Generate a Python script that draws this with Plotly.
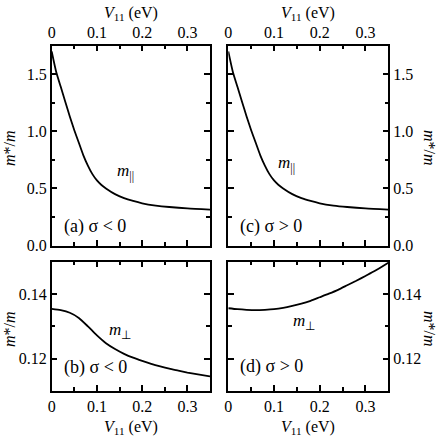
import plotly.graph_objects as go

# ---- data ----
v11_par = [0, 0.01, 0.02, 0.03, 0.04, 0.05, 0.06, 0.07, 0.08, 0.09, 0.10, 0.11, 0.12,
           0.14, 0.16, 0.18, 0.20, 0.23, 0.26, 0.30, 0.35]
m_par = [1.70, 1.52, 1.39, 1.26, 1.13, 1.01, 0.90, 0.79, 0.70, 0.625, 0.57, 0.53, 0.50,
         0.45, 0.415, 0.39, 0.37, 0.35, 0.337, 0.325, 0.315]

v11_perp = [0, 0.02, 0.04, 0.06, 0.08, 0.10, 0.12, 0.14, 0.16, 0.18, 0.20, 0.22, 0.24,
            0.26, 0.28, 0.30, 0.32, 0.35]
m_perp_neg = [0.1354, 0.1350, 0.1342, 0.1326, 0.1300, 0.1272, 0.1248, 0.1230, 0.1215,
              0.1203, 0.1193, 0.1184, 0.1176, 0.1169, 0.1163, 0.1157, 0.1152, 0.1145]
m_perp_pos = [0.1356, 0.1353, 0.1351, 0.1350, 0.1351, 0.1353, 0.1357, 0.1363, 0.1370,
              0.1379, 0.1390, 0.1401, 0.1413, 0.1427, 0.1441, 0.1456, 0.1471, 0.1497]

panel_labels = ["(a) σ < 0", "(c) σ > 0", "(b) σ < 0", "(d) σ > 0"]
x_title = "<i>V</i><sub>11</sub> (eV)"
y_title = "<i>m</i>*/<i>m</i>"

W, H = 440, 437
FONT = "Liberation Serif, Times New Roman, Times, serif"

def px_x(a, b):
    return [a / W, b / W]

def px_y(top, bottom):
    return [1 - bottom / H, 1 - top / H]

fig = go.Figure()
line = dict(color="black", width=1.8, shape="spline", smoothing=0.6)
fig.add_trace(go.Scatter(x=v11_par, y=m_par, mode="lines", line=line, xaxis="x", yaxis="y"))
fig.add_trace(go.Scatter(x=v11_par, y=m_par, mode="lines", line=line, xaxis="x2", yaxis="y2"))
fig.add_trace(go.Scatter(x=v11_perp, y=m_perp_neg, mode="lines", line=line, xaxis="x3", yaxis="y3"))
fig.add_trace(go.Scatter(x=v11_perp, y=m_perp_pos, mode="lines", line=line, xaxis="x4", yaxis="y4"))

common = dict(showline=True, linecolor="black", linewidth=1.5, mirror="allticks",
              ticks="inside", ticklen=6, tickwidth=1.5, tickcolor="black",
              showgrid=False, zeroline=False, automargin=False,
              tickfont=dict(family=FONT, size=16, color="black"))

def xax(domain, anchor, side):
    d = dict(common)
    d.update(domain=domain, anchor=anchor, side=side, range=[0, 0.35], dtick=0.1, tick0=0,
             minor=dict(ticks="inside", dtick=0.05, ticklen=4, tickwidth=1.5, tickcolor="black"))
    return d

def yax_top(domain, anchor, side):
    d = dict(common)
    d.update(domain=domain, anchor=anchor, side=side, range=[0, 1.75], dtick=0.5, tick0=0,
             tickformat=".1f",
             minor=dict(ticks="inside", dtick=0.25, ticklen=4, tickwidth=1.5, tickcolor="black"))
    return d

def yax_bot(domain, anchor, side):
    d = dict(common)
    d.update(domain=domain, anchor=anchor, side=side, range=[0.11, 0.15], dtick=0.02, tick0=0,
             tickformat=".2f",
             minor=dict(ticks="inside", dtick=0.01, ticklen=4, tickwidth=1.5, tickcolor="black"))
    return d

XL = (51.7, 210.0)
XR = (228.3, 388.3)
YT = (45.7, 245.5)
YB = (261.7, 391.0)
xl = px_x(*XL)
xr = px_x(*XR)
yt = px_y(*YT)
yb = px_y(*YB)

fig.update_layout(
    width=W, height=H, margin=dict(l=0, r=0, t=0, b=0, autoexpand=False),
    paper_bgcolor="white", plot_bgcolor="white", showlegend=False,
    xaxis=xax(xl, "y", "top"),
    yaxis=yax_top(yt, "x", "left"),
    xaxis2=xax(xr, "y2", "top"),
    yaxis2=yax_top(yt, "x2", "right"),
    xaxis3=xax(xl, "y3", "bottom"),
    yaxis3=yax_bot(yb, "x3", "left"),
    xaxis4=xax(xr, "y4", "bottom"),
    yaxis4=yax_bot(yb, "x4", "right"),
)

afont = dict(family=FONT, size=18, color="black")
lfont = dict(family=FONT, size=17, color="black")
tfont = dict(family=FONT, size=16, color="black")
ann = [
    dict(x=0.022, y=0.17, xref="x", yref="y", text=panel_labels[0], font=afont),
    dict(x=0.022, y=0.17, xref="x2", yref="y2", text=panel_labels[1], font=afont),
    dict(x=0.022, y=0.1173, xref="x3", yref="y3", text=panel_labels[2], font=afont),
    dict(x=0.022, y=0.1175, xref="x4", yref="y4", text=panel_labels[3], font=afont),
    dict(x=0.14, y=0.64, xref="x", yref="y", text="<i>m</i><sub>||</sub>", font=lfont),
    dict(x=0.105, y=0.71, xref="x2", yref="y2", text="<i>m</i><sub>||</sub>", font=lfont),
    dict(x=0.123, y=0.1285, xref="x3", yref="y3", text="<i>m</i><sub>⊥</sub>", font=lfont),
    dict(x=0.137, y=0.1315, xref="x4", yref="y4", text="<i>m</i><sub>⊥</sub>", font=lfont),
]
for a in ann:
    a.update(showarrow=False, xanchor="left", yanchor="middle")

# axis titles as paper annotations
titles = [
    dict(x=(XL[0] + XL[1]) / 2 / W, y=1 - 13 / H, text=x_title, textangle=0),
    dict(x=(XR[0] + XR[1]) / 2 / W, y=1 - 13 / H, text=x_title, textangle=0),
    dict(x=(XL[0] + XL[1]) / 2 / W, y=1 - 427 / H, text=x_title, textangle=0),
    dict(x=(XR[0] + XR[1]) / 2 / W, y=1 - 427 / H, text=x_title, textangle=0),
    dict(x=9 / W, y=1 - 148 / H, text=y_title, textangle=-90),
    dict(x=9 / W, y=1 - 329 / H, text=y_title, textangle=-90),
    dict(x=430 / W, y=1 - 148 / H, text=y_title, textangle=90),
    dict(x=430 / W, y=1 - 329 / H, text=y_title, textangle=90),
]
for t in titles:
    t.update(xref="paper", yref="paper", showarrow=False, xanchor="center", yanchor="middle",
             font=tfont)

fig.update_layout(annotations=ann + titles)

fig.write_html(
    "out.html",
    config={"displayModeBar": False},
    post_script="document.body.style.margin='0';document.body.style.overflow='hidden';",
)
